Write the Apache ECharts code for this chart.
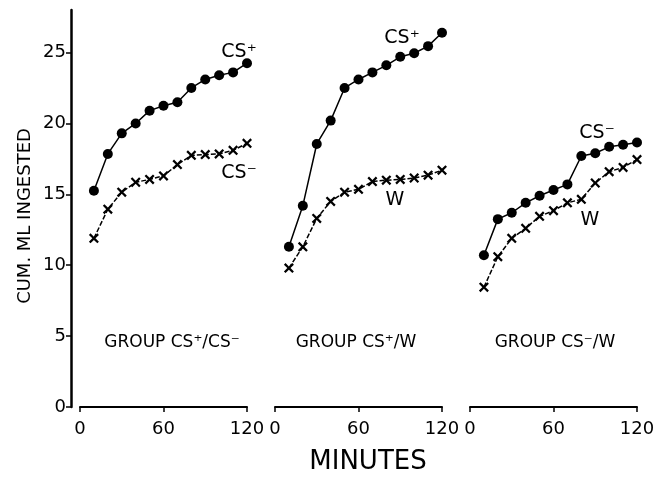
<!DOCTYPE html>
<html>
<head>
<meta charset="utf-8">
<script src="https://cdn.jsdelivr.net/npm/echarts@6/dist/echarts.min.js"></script>
<style>
html, body { margin: 0; padding: 0; background: #fff; }
#main { width: 664px; height: 478px; }
</style>
</head>
<body>
<div id="main"></div>
<script>
// minutes sampled in every panel
var minutes = [10, 20, 30, 40, 50, 60, 70, 80, 90, 100, 110, 120];
var xTicks = [0, 60, 120];
var yTicks = [0, 5, 10, 15, 20, 25];

// group CS+/CS-
var g1CsPlus  = [15.25, 17.85, 19.3, 20.0, 20.9, 21.25, 21.5, 22.5, 23.1, 23.4, 23.6, 24.25];
var g1CsMinus = [11.9, 13.95, 15.15, 15.85, 16.05, 16.3, 17.1, 17.75, 17.8, 17.85, 18.1, 18.6];
// group CS+/W
var g2CsPlus  = [11.3, 14.2, 18.55, 20.2, 22.5, 23.1, 23.6, 24.1, 24.7, 24.95, 25.45, 26.4];
var g2W       = [9.8, 11.3, 13.3, 14.5, 15.15, 15.35, 15.9, 16.0, 16.05, 16.15, 16.35, 16.7];
// group CS-/W
var g3CsMinus = [10.7, 13.25, 13.7, 14.4, 14.9, 15.3, 15.7, 17.7, 17.9, 18.35, 18.5, 18.65];
var g3W       = [8.45, 10.6, 11.9, 12.6, 13.45, 13.85, 14.4, 14.65, 15.8, 16.6, 16.9, 17.45];

var FONT = 'DejaVu Sans';
var crossPath = 'path://M0,1.6 L1.6,0 L5,3.4 L8.4,0 L10,1.6 L6.6,5 L10,8.4 L8.4,10 L5,6.6 L1.6,10 L0,8.4 L3.4,5 Z';

function pairs(vals) {
    return minutes.map(function(m, i) { return [m, vals[i]]; });
}

function dotSeries(idx, vals) {
    return {
        type: 'line', xAxisIndex: idx, yAxisIndex: idx,
        data: pairs(vals),
        symbol: 'circle', symbolSize: 10,
        itemStyle: { color: '#000' },
        lineStyle: { color: '#000', width: 1.5 },
        animation: false
    };
}

function crossSeries(idx, vals) {
    return {
        type: 'line', xAxisIndex: idx, yAxisIndex: idx,
        data: pairs(vals),
        symbol: crossPath, symbolSize: 10,
        itemStyle: { color: '#000' },
        lineStyle: { color: '#000', width: 1.5, type: [5, 2] },
        animation: false
    };
}

var lefts = [80, 275, 470];

var chart = echarts.init(document.getElementById('main'));

var option = {
    backgroundColor: '#fff',
    grid: lefts.map(function(l) {
        return { left: l, width: 167, top: 10, bottom: 71 };
    }),
    xAxis: lefts.map(function(l, i) {
        return {
            type: 'value', gridIndex: i, min: 0, max: 120, interval: 60,
            axisLine: { show: true, onZero: false, lineStyle: { color: '#000', width: 2 } },
            axisTick: { show: true, length: 5, lineStyle: { color: '#000', width: 1.5 } },
            axisLabel: { color: '#000', fontFamily: FONT, fontSize: 18, margin: 13, customValues: xTicks },
            splitLine: { show: false }
        };
    }),
    yAxis: lefts.map(function(l, i) {
        return {
            type: 'value', gridIndex: i, min: 0, max: 28,
            show: i === 0,
            offset: 9,
            axisLine: { show: true, onZero: false, lineStyle: { color: '#000', width: 2.5 } },
            axisTick: { show: true, length: 5, customValues: yTicks, lineStyle: { color: '#000', width: 1.5 } },
            axisLabel: { color: '#000', fontFamily: FONT, fontSize: 18, margin: 5, customValues: yTicks },
            splitLine: { show: false }
        };
    }),
    series: [
        dotSeries(0, g1CsPlus), crossSeries(0, g1CsMinus),
        dotSeries(1, g2CsPlus), crossSeries(1, g2W),
        dotSeries(2, g3CsMinus), crossSeries(2, g3W)
    ],
    graphic: [
        { type: 'text', x: 25, y: 216, rotation: Math.PI / 2,
          style: { text: 'CUM. ML INGESTED', font: '18px ' + FONT, fill: '#000', align: 'center', verticalAlign: 'middle' } },
        { type: 'text', x: 368, y: 462,
          style: { text: 'MINUTES', font: '26px ' + FONT, fill: '#000', align: 'center', verticalAlign: 'middle' } },
        { type: 'text', x: 172, y: 343,
          style: { text: 'GROUP CS\u207A/CS\u207B', font: '17px ' + FONT, fill: '#000', align: 'center', verticalAlign: 'middle' } },
        { type: 'text', x: 356, y: 343,
          style: { text: 'GROUP CS\u207A/W', font: '17px ' + FONT, fill: '#000', align: 'center', verticalAlign: 'middle' } },
        { type: 'text', x: 555, y: 343,
          style: { text: 'GROUP CS\u207B/W', font: '17px ' + FONT, fill: '#000', align: 'center', verticalAlign: 'middle' } },
        { type: 'text', x: 239, y: 52,
          style: { text: 'CS\u207A', font: '19px ' + FONT, fill: '#000', align: 'center', verticalAlign: 'middle' } },
        { type: 'text', x: 239, y: 173,
          style: { text: 'CS\u207B', font: '19px ' + FONT, fill: '#000', align: 'center', verticalAlign: 'middle' } },
        { type: 'text', x: 402, y: 38,
          style: { text: 'CS\u207A', font: '19px ' + FONT, fill: '#000', align: 'center', verticalAlign: 'middle' } },
        { type: 'text', x: 395, y: 200,
          style: { text: 'W', font: '19px ' + FONT, fill: '#000', align: 'center', verticalAlign: 'middle' } },
        { type: 'text', x: 597, y: 133,
          style: { text: 'CS\u207B', font: '19px ' + FONT, fill: '#000', align: 'center', verticalAlign: 'middle' } },
        { type: 'text', x: 590, y: 220,
          style: { text: 'W', font: '19px ' + FONT, fill: '#000', align: 'center', verticalAlign: 'middle' } }
    ]
};

chart.setOption(option);
</script>
</body>
</html>
